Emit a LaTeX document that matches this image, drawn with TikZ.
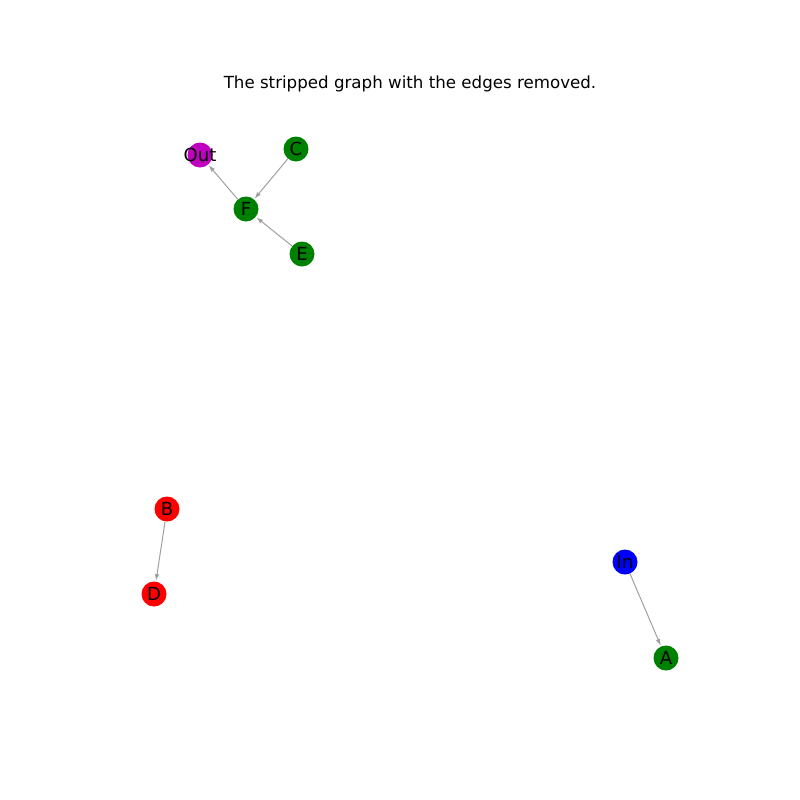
\documentclass[tikz,border=0pt]{standalone}
\usepackage{fontspec}
\setmainfont{DejaVu Sans}
\usetikzlibrary{arrows.meta}
\definecolor{ngreen}{RGB}{0,128,0}
\definecolor{nred}{RGB}{255,0,0}
\definecolor{nblue}{RGB}{0,0,255}
\definecolor{nmag}{RGB}{191,0,191}
\definecolor{egray}{RGB}{160,160,160}
\newcommand{\nlab}[1]{\makebox[0pt]{#1}}
\begin{document}
\begin{tikzpicture}[x=0.75pt,y=-0.75pt,
  gnode/.style={circle,minimum size=18.75pt,inner sep=0pt,font=\fontsize{13.5}{15}\selectfont,text=black},
  edge/.style={draw=egray,line width=0.75pt,-{Latex[length=5pt,width=3.5pt]},shorten >=0.5pt}]
\useasboundingbox (0,0) rectangle (800,800);
\node[font=\fontsize{12.5}{14}\selectfont] (title) at (410,83.5) {The stripped graph with the edges removed.};
\node[gnode,fill=nmag] (Out) at (200,155) {\nlab{Out}};
\node[gnode,fill=ngreen] (C) at (296,149) {\nlab{C}};
\node[gnode,fill=ngreen] (F) at (246,209) {\nlab{F}};
\node[gnode,fill=ngreen] (E) at (302,254) {\nlab{E}};
\node[gnode,fill=nred] (B) at (167,509) {\nlab{B}};
\node[gnode,fill=nred] (D) at (154,594) {\nlab{D}};
\node[gnode,fill=nblue] (In) at (625,562) {\nlab{In}};
\node[gnode,fill=ngreen] (A) at (666,658) {\nlab{A}};
\draw[edge] (C) -- (F);
\draw[edge] (E) -- (F);
\draw[edge] (F) -- (Out);
\draw[edge] (B) -- (D);
\draw[edge] (In) -- (A);
\end{tikzpicture}
\end{document}
